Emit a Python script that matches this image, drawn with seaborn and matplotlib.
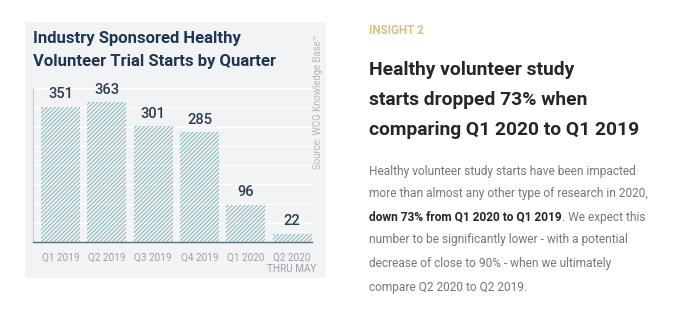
import matplotlib
matplotlib.use("Agg")
import matplotlib.pyplot as plt
from matplotlib.patches import Rectangle
import seaborn as sns
import pandas as pd

quarters = ["Q1 2019", "Q2 2019", "Q3 2019", "Q4 2019", "Q1 2020", "Q2 2020\nTHRU MAY"]
starts = [351, 363, 301, 285, 96, 22]
yticks = [0, 50, 100, 150, 200, 250, 300, 350, 400]

W, H = 694, 329
sns.set_theme(style="white")
plt.rcParams["font.family"] = ["Roboto", "DejaVu Sans"]
plt.rcParams["hatch.linewidth"] = 0.8

fig = plt.figure(figsize=(W / 100, H / 100), dpi=100)
fig.patch.set_facecolor("white")

def fx(x):
    return x / W

def fy(y):
    return 1 - y / H

# chart panel background
fig.patches.append(Rectangle((fx(25), fy(278)), fx(326) - fx(25), fy(22) - fy(278),
                             transform=fig.transFigure, facecolor="#f2f3f5",
                             edgecolor="none", zorder=-5))

ax = fig.add_axes([fx(33), fy(242), fx(312) - fx(33), fy(88) - fy(242)])
ax.set_facecolor("none")
ax.set_zorder(2)

df = pd.DataFrame({"quarter": quarters, "starts": starts})
sns.barplot(data=df, x="quarter", y="starts", ax=ax, width=0.84,
            color="#86b7b8", linewidth=0, zorder=3)
for p in ax.patches:
    p.set_hatch("////////")
    p.set_facecolor("none")
    p.set_edgecolor("#8dbbbc")
    p.set_linewidth(0)

ax.set_xlim(-0.59, 5.43)
ax.set_ylim(0, 400)
ax.set_yticks(yticks)
ax.yaxis.grid(True, color="#ffffff", linewidth=0.9, zorder=1)
ax.set_axisbelow(True)
ax.tick_params(axis="y", left=False, labelleft=False)
ax.tick_params(axis="x", bottom=False, pad=2, labelsize=7.2, labelcolor="#9ba1a7")
for lbl in ax.get_xticklabels():
    lbl.set_linespacing(1.1)
    lbl.set_verticalalignment("top")
ax.set_xlabel("")
ax.set_ylabel("")
for s in ["top", "right"]:
    ax.spines[s].set_visible(False)
ax.spines["left"].set_color("#c9ced4")
ax.spines["left"].set_linewidth(0.9)
ax.spines["bottom"].set_color("#5c6b7a")
ax.spines["bottom"].set_linewidth(1.0)

for p, v in zip(ax.patches, starts):
    ax.annotate(str(v), (p.get_x() + p.get_width() / 2, p.get_height()),
                xytext=(0, 4), textcoords="offset points", ha="center", va="bottom",
                fontsize=10.5, color="#2b3a4e", fontweight="medium")

# title
fig.text(fx(33), fy(31), "Industry Sponsored Healthy\nVolunteer Trial Starts by Quarter",
         ha="left", va="top", fontsize=12, fontweight="bold", color="#1f3653",
         linespacing=1.65)

# source
fig.text(fx(318), fy(34), "Source: WCG Knowledge Base\u2122", rotation=90,
         ha="center", va="top", fontsize=6.9, color="#b4b9bf")

# right side
fig.text(fx(369), fy(30), "INSIGHT 2", ha="left", va="center", fontsize=8.4,
         fontweight="bold", color="#cfc37e")
for i, line in enumerate(["Healthy volunteer study", "starts dropped 73% when",
                          "comparing Q1 2020 to Q1 2019"]):
    fig.text(fx(369), fy(70 + 30 * i), line, ha="left", va="center", fontsize=13.9,
             fontweight="bold", color="#262626")

body = ["Healthy volunteer study starts have been impacted",
        "more than almost any other type of research in 2020,",
        None,
        "number to be significantly lower - with a potential",
        "decrease of close to 90% - when we ultimately",
        "compare Q2 2020 to Q2 2019."]
body_y = [171, 194, 217, 240, 264, 287]
for line, y in zip(body, body_y):
    if line is None:
        continue
    fig.text(fx(369), fy(y), line, ha="left", va="center", fontsize=8.6,
             color="#777777")

bold_t = fig.text(fx(369), fy(body_y[2]), "down 73% from Q1 2020 to Q1 2019", ha="left",
                  va="center", fontsize=8.6, fontweight="bold", color="#262626")
fig.canvas.draw()
bb = bold_t.get_window_extent(renderer=fig.canvas.get_renderer())
fig.text(bb.x1 / W, fy(body_y[2]), ". We expect this", ha="left", va="center",
         fontsize=8.6, color="#777777")

fig.savefig("out.png", dpi=100)
